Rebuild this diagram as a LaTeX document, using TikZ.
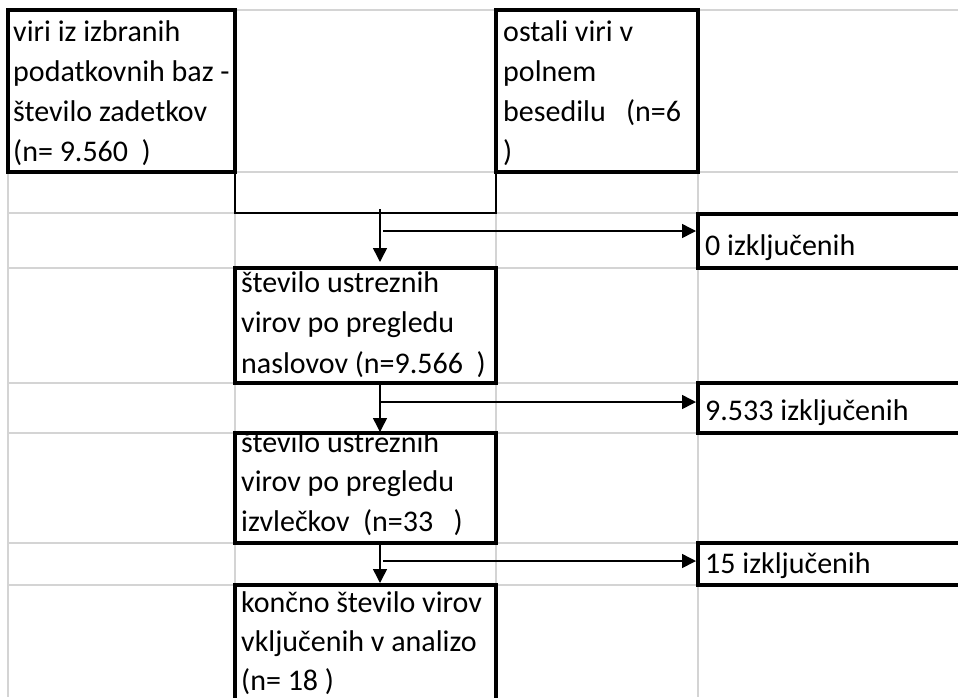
\documentclass[tikz,border=0pt]{standalone}
\usepackage{fontspec}
\setmainfont{Carlito}
\usetikzlibrary{arrows.meta}
\definecolor{gridgray}{RGB}{212,212,212}
\tikzset{
    cell/.style={draw, line width=3.5pt, anchor=north west, inner sep=0pt, outer sep=0pt},
    txt/.style={anchor=base west, inner sep=0pt, font=\fontsize{30}{40}\selectfont},
    link/.style={line width=1.5pt},
    arr/.style={line width=1.5pt, -{Triangle[length=14pt,width=14pt]}}
}
\begin{document}
\begin{tikzpicture}[x=1pt, y=-1pt]
        \clip (0,0) rectangle (958,697);
        % Sheet grid (light gray)
        \foreach \y in {10,172,213,268,383,433,543,585} {
            \draw[gridgray, line width=1.5pt] (8,\y) -- (958,\y);
        }
        \foreach \x in {8,235,496,698} {
            \draw[gridgray, line width=1.5pt] (\x,10) -- (\x,697);
        }

        % Boxes
        \node[cell, minimum width=227pt, minimum height=162pt] (src) at (8,10) {};
        \node[cell, minimum width=202pt, minimum height=162pt] (oth) at (496,10) {};
        \node[cell, minimum width=261pt, minimum height=115pt] (tit) at (235,268) {};
        \node[cell, minimum width=261pt, minimum height=110pt] (abs) at (235,433) {};
        \node[cell, minimum width=261pt, minimum height=130pt] (fin) at (235,585) {};
        \node[cell, minimum width=300pt, minimum height=54pt] (ex0) at (698,214) {};
        \node[cell, minimum width=300pt, minimum height=50pt] (ex1) at (698,383) {};
        \node[cell, minimum width=300pt, minimum height=42pt] (ex2) at (698,543) {};

        % Box texts
        \foreach \t [count=\i from 0] in {viri iz izbranih, podatkovnih baz -, število zadetkov, (n= 9.560\ \ )} {
            \node[txt] (src-\i) at (13,41+40*\i) {\t};
        }
        \foreach \t [count=\i from 0] in {ostali viri v, polnem, besedilu\ \ \ (n=6, )} {
            \node[txt] (oth-\i) at (503,41+40*\i) {\t};
        }
        \foreach \t [count=\i from 0] in {število ustreznih, virov po pregledu, naslovov (n=9.566\ \ )} {
            \node[txt] (tit-\i) at (241,292+40.5*\i) {\t};
        }
        \begin{scope}
            \clip (235,435) rectangle (496,543);
            \foreach \t [count=\i from 0] in {število ustreznih, virov po pregledu, izvlečkov\ \ (n=33\ \ \ )} {
                \node[txt] (abs-\i) at (241,452+39.5*\i) {\t};
            }
        \end{scope}
        \foreach \t [count=\i from 0] in {končno število virov, vključenih v analizo, (n= 18\ )} {
            \node[txt] (fin-\i) at (241,612+39*\i) {\t};
        }
        \node[txt] (ex0-t) at (705,255) {0 izključenih};
        \node[txt] (ex1-t) at (705,420) {9.533 izključenih};
        \node[txt] (ex2-t) at (705,573) {15 izključenih};

        % Joining the two sources
        \coordinate (jl) at (235,213);
        \coordinate (jr) at (496,213);
        \draw[link] (src.south east) -- (jl) -- (jr) -- (oth.south west);

        % Main flow and exclusions
        \coordinate (d0) at (380,209);
        \coordinate (h0) at (383,231);
        \coordinate (h1) at (380,402);
        \coordinate (h2) at (383,561);
        \draw[arr, shorten >=6pt] (d0) -- (d0 |- tit.north);
        \draw[arr, shorten >=2pt] (h0) -- (h0 -| ex0.west);
        \draw[arr, shorten >=1pt] (tit.south -| d0) -- (abs.north -| d0);
        \draw[arr, shorten >=2pt] (h1) -- (h1 -| ex1.west);
        \draw[arr, shorten >=2pt] (abs.south -| d0) -- (fin.north -| d0);
        \draw[arr, shorten >=2pt] (h2) -- (h2 -| ex2.west);
    \end{tikzpicture}
\end{document}
